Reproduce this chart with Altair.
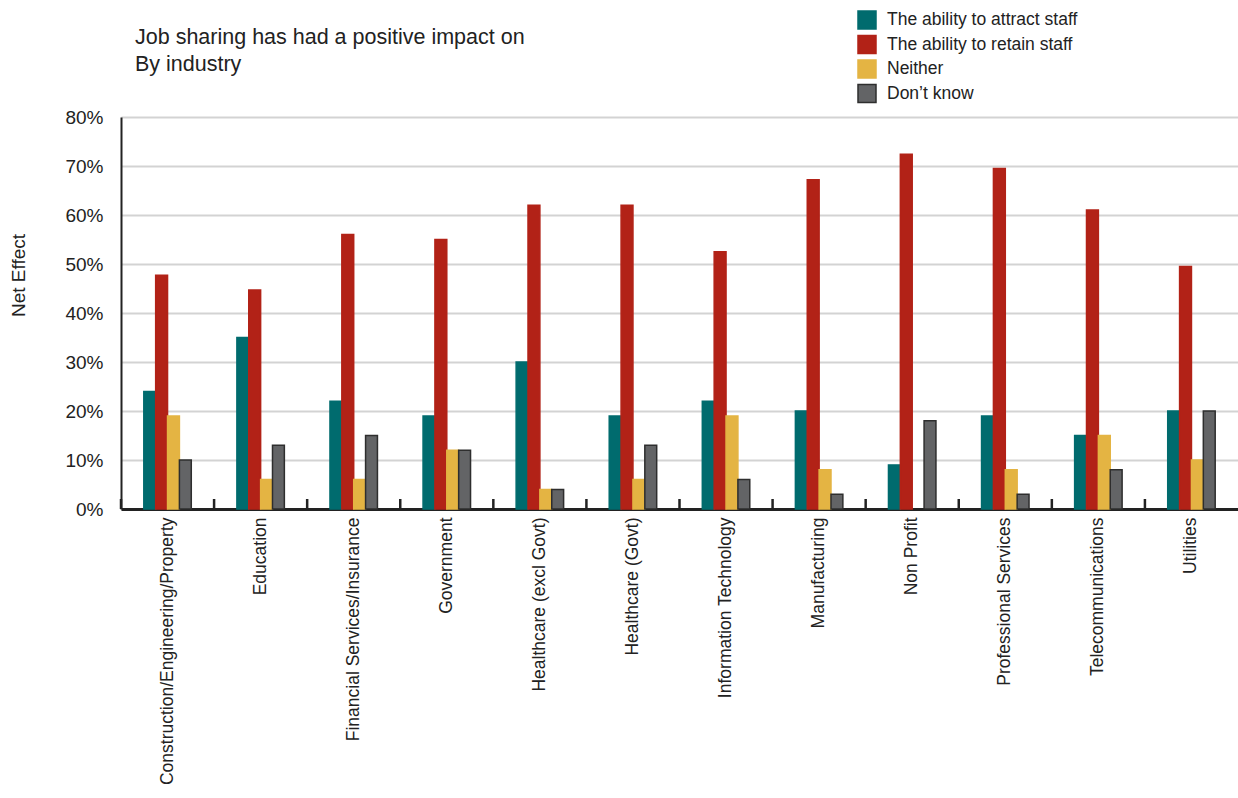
import altair as alt
import pandas as pd

industries = [
    "Construction/Engineering/Property",
    "Education",
    "Financial Services/Insurance",
    "Government",
    "Healthcare (excl Govt)",
    "Healthcare (Govt)",
    "Information Technology",
    "Manufacturing",
    "Non Profit",
    "Professional Services",
    "Telecommunications",
    "Utilities",
]
series = [
    "The ability to attract staff",
    "The ability to retain staff",
    "Neither",
    "Don\u2019t know",
]
attract = [24, 35, 22, 19, 30, 19, 22, 20, 9, 19, 15, 20]
retain = [47.7, 44.7, 56, 55, 62, 62, 52.5, 67.2, 72.4, 69.5, 61, 49.5]
neither = [19, 6, 6, 12, 4, 6, 19, 8, 0, 8, 15, 10]
dont_know = [10, 13, 15, 12, 4, 13, 6, 3, 18, 3, 8, 20]

fill_colors = ["#006B6E", "#B22217", "#E4B443", "#636466"]
stroke_colors = ["#006B6E", "#B22217", "#E4B443", "#2E2E2E"]

rows = []
for i, ind in enumerate(industries):
    for s, vals in zip(series, [attract, retain, neither, dont_know]):
        rows.append({"industry": ind, "series": s, "value": vals[i] / 100})
df = pd.DataFrame(rows)
sep_df = pd.DataFrame({"industry": industries})

W, H = 1117, 392
FONT = "Liberation Sans"

legend = alt.Legend(
    title=None,
    orient="none",
    legendX=736,
    legendY=-107,
    symbolType="square",
    symbolSize=324,
    symbolStrokeWidth=1.5,
    labelFontSize=17.5,
    labelFont=FONT,
    labelColor="#222222",
    labelOffset=10,
    rowPadding=0.5,
    labelLimit=400,
)

bars = alt.Chart(df).transform_filter("datum.value > 0").mark_bar(strokeWidth=1.5).encode(
    x=alt.X(
        "industry:N",
        scale=alt.Scale(domain=industries, paddingInner=0.49, paddingOuter=0.245),
        sort=industries,
        axis=alt.Axis(
            title=None,
            labelAngle=-90,
            labelFontSize=17.5,
            labelFont=FONT,
            labelColor="#222222",
            labelPadding=8,
            labelLimit=400,
            ticks=False,
            domainColor="#222222",
            domainWidth=3,
            grid=False,
        ),
    ),
    xOffset=alt.XOffset(
        "series:N",
        sort=series,
        scale=alt.Scale(domain=series, paddingInner=0, paddingOuter=0),
    ),
    y=alt.Y(
        "value:Q",
        scale=alt.Scale(domain=[0, 0.8]),
        axis=alt.Axis(
            title="Net Effect",
            titleFont=FONT,
            titleFontSize=19,
            titleFontWeight="normal",
            titleColor="#222222",
            titleAngle=270,
            titleX=-103,
            titleY=158,
            titleAlign="center",
            titleBaseline="middle",
            format=".0%",
            values=[0, 0.1, 0.2, 0.3, 0.4, 0.5, 0.6, 0.7, 0.8],
            labelFont=FONT,
            labelFontSize=19,
            labelColor="#222222",
            labelPadding=18,
            ticks=False,
            domainColor="#222222",
            domainWidth=2,
            gridColor="#D3D3D3",
            gridWidth=2,
        ),
    ),
    fill=alt.Fill("series:N", sort=series, scale=alt.Scale(domain=series, range=fill_colors), legend=legend),
    stroke=alt.Stroke("series:N", sort=series, scale=alt.Scale(domain=series, range=stroke_colors), legend=legend),
)

seps = alt.Chart(sep_df).mark_rule(color="#222222", strokeWidth=2.5).encode(
    x=alt.X(
        "industry:N",
        bandPosition=0,
        sort=industries,
        scale=alt.Scale(domain=industries, paddingInner=0, paddingOuter=0),
        axis=None,
    ),
    y=alt.value(H - 10),
    y2=alt.value(H),
)

chart = alt.layer(bars, seps).resolve_scale(x="independent").properties(
    width=W,
    height=H,
    autosize=alt.AutoSizeParams(type="none"),
    padding={"left": 121, "top": 117, "right": 0, "bottom": 281},
    title=alt.TitleParams(
        text=["Job sharing has had a positive impact on", "By industry"],
        anchor="start",
        frame="group",
        dx=14,
        dy=65,
        fontSize=21.5,
        font=FONT,
        fontWeight="normal",
        color="#222222",
        lineHeight=27,
        offset=0,
    ),
).configure_view(stroke=None)

chart.save("out.html", embed_options={"renderer": "svg", "actions": False})
